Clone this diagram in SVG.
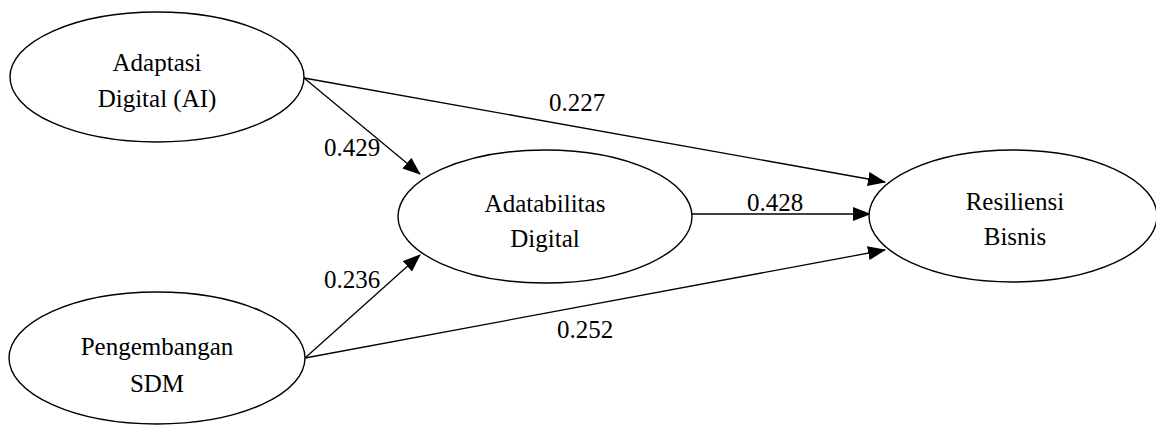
<svg xmlns="http://www.w3.org/2000/svg" width="1156" height="426" viewBox="0 0 1156 426">
<style>
.node ellipse{fill:#fff;stroke:#000;stroke-width:1.4}
text{font-family:'Liberation Serif','Times New Roman','DejaVu Serif',serif;font-size:25px;fill:#000;text-anchor:middle}
.edges line{stroke:#000;stroke-width:1.3;marker-end:url(#ah)}
</style>
<defs>
<marker id="ah" markerUnits="userSpaceOnUse" markerWidth="18" markerHeight="14" refX="17" refY="7" orient="auto">
<path d="M0,0 L18,7 L0,14 Z" fill="#000"/>
</marker>
</defs>
<rect width="1156" height="426" fill="#fff"/>
<g class="edges">
<line x1="304" y1="78" x2="420" y2="174"/>
<line x1="304" y1="78" x2="885" y2="182"/>
<line x1="692" y1="214" x2="870" y2="214"/>
<line x1="305" y1="358" x2="420" y2="255"/>
<line x1="305" y1="358" x2="885" y2="250"/>
</g>
<g class="labels" font-family="Liberation Serif, serif">
<text x="352" y="156">0.429</text>
<text x="577" y="111">0.227</text>
<text x="775" y="211">0.428</text>
<text x="352" y="288">0.236</text>
<text x="585" y="338">0.252</text>
</g>
<g id="adaptasi" class="node">
<ellipse cx="157" cy="77" rx="147" ry="65"/>
<text x="157" y="71">Adaptasi</text>
<text x="157" y="107">Digital (AI)</text>
</g>
<g id="sdm" class="node">
<ellipse cx="157" cy="358" rx="148" ry="66"/>
<text x="157" y="355">Pengembangan</text>
<text x="157" y="392">SDM</text>
</g>
<g id="adatabilitas" class="node">
<ellipse cx="545" cy="216.5" rx="147" ry="66.5"/>
<text x="545" y="212">Adatabilitas</text>
<text x="545" y="247">Digital</text>
</g>
<g id="resiliensi" class="node">
<ellipse cx="1013" cy="216" rx="144" ry="66"/>
<text x="1015" y="210">Resiliensi</text>
<text x="1015" y="245">Bisnis</text>
</g>
</svg>
